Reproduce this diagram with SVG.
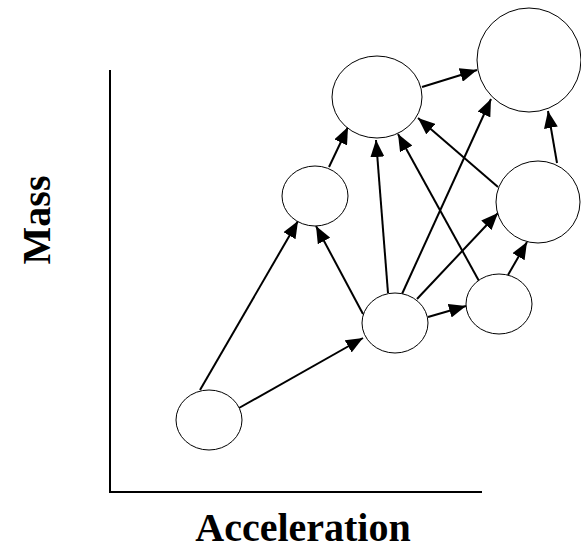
<svg xmlns="http://www.w3.org/2000/svg" width="581" height="549" viewBox="0 0 581 549">
  <style>
    .node { fill: #ffffff; stroke: #000000; stroke-width: 1; }
    .edge { stroke: #000000; stroke-width: 2; fill: none; marker-end: url(#arrow); }
    .axis { stroke: #000000; stroke-width: 2; fill: none; }
    .label { font-family: "Liberation Serif", "Times New Roman", serif; font-weight: bold; font-size: 40px; fill: #000000; }
  </style>
  <defs>
    <marker id="arrow" markerUnits="userSpaceOnUse" markerWidth="18" markerHeight="14" refX="17" refY="7" orient="auto">
      <path d="M0,0 L17,7 L0,14 z" fill="#000000"/>
    </marker>
  </defs>
  <rect width="581" height="549" fill="#ffffff"/>

  <!-- axes -->
  <g id="axes">
    <polyline class="axis" points="110,70 110,492 482,492"/>
    <text class="label" x="0" y="0" text-anchor="middle" transform="translate(50,220) rotate(-90)">Mass</text>
    <text class="label" x="303" y="541" text-anchor="middle">Acceleration</text>
  </g>

  <!-- connectors -->
  <g id="edges">
    <line class="edge" x1="200" y1="390" x2="298" y2="221"/>
    <line class="edge" x1="239" y1="408" x2="363" y2="338"/>
    <line class="edge" x1="363" y1="314" x2="316" y2="226"/>
    <line class="edge" x1="388" y1="293" x2="376" y2="140"/>
    <line class="edge" x1="402" y1="294" x2="491" y2="99"/>
    <line class="edge" x1="417" y1="299" x2="498" y2="213"/>
    <line class="edge" x1="428" y1="317" x2="466" y2="306"/>
    <line class="edge" x1="479" y1="281" x2="398" y2="134"/>
    <line class="edge" x1="508" y1="275" x2="527" y2="242"/>
    <line class="edge" x1="498" y1="187" x2="418" y2="118"/>
    <line class="edge" x1="557" y1="163" x2="548" y2="111"/>
    <line class="edge" x1="422" y1="87" x2="477" y2="70"/>
    <line class="edge" x1="329" y1="167" x2="348" y2="127"/>
  </g>

  <!-- nodes -->
  <g id="node-a"><ellipse class="node" cx="377" cy="97" rx="45" ry="41"/></g>
  <g id="node-b"><ellipse class="node" cx="529" cy="60" rx="52" ry="52"/></g>
  <g id="node-c"><ellipse class="node" cx="315" cy="196" rx="33" ry="30"/></g>
  <g id="node-d"><ellipse class="node" cx="538" cy="202" rx="42" ry="41"/></g>
  <g id="node-e"><ellipse class="node" cx="395" cy="323" rx="33" ry="30"/></g>
  <g id="node-f"><ellipse class="node" cx="499" cy="304" rx="33" ry="30"/></g>
  <g id="node-g"><ellipse class="node" cx="209" cy="420" rx="33" ry="30"/></g>
</svg>
